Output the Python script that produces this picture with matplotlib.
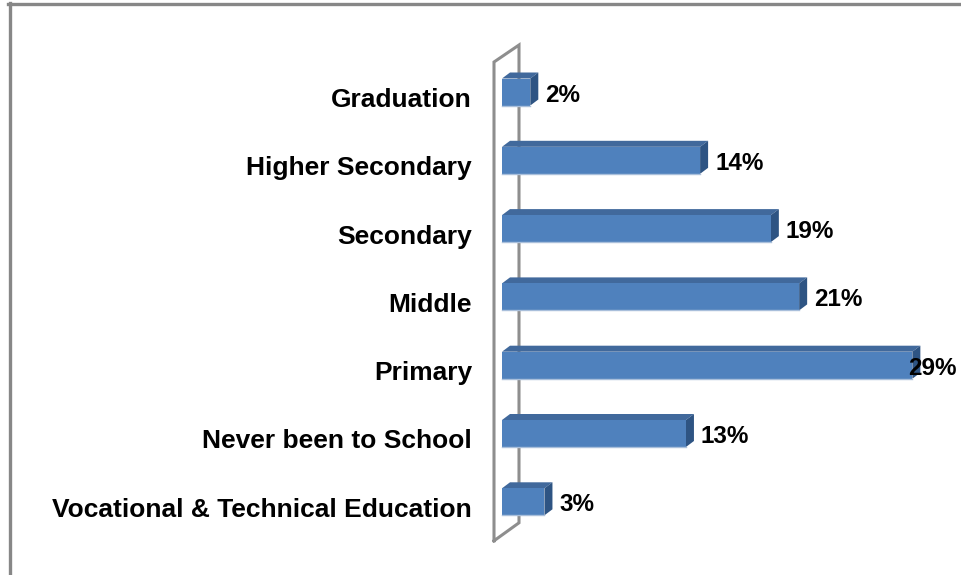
import matplotlib.pyplot as plt
from matplotlib.patches import Polygon
from matplotlib.lines import Line2D

categories = ["Graduation", "Higher Secondary", "Secondary", "Middle",
              "Primary", "Never been to School",
              "Vocational & Technical Education"]
values = [2, 14, 19, 21, 29, 13, 3]
labels = ["2%", "14%", "19%", "21%", "29%", "13%", "3%"]

W, H = 961, 575
fig = plt.figure(figsize=(W / 100, H / 100), dpi=100)

# axes laid out in pixels so the 3D offsets are easy to work out
px_x = 14.15          # pixels per percent
px_y = 68.3           # pixels per category row
ax_left, ax_right = 480, 958
ax_top, ax_bot = 30, 565
zero_px = 502
row0_px = 92

ax = fig.add_axes([ax_left / W, 1 - ax_bot / H,
                   (ax_right - ax_left) / W, (ax_bot - ax_top) / H])
ax.set_xlim((ax_left - zero_px) / px_x, (ax_right - zero_px) / px_x)
ax.set_ylim((ax_bot - row0_px) / px_y, (ax_top - row0_px) / px_y)
ax.axis("off")

dx = 8 / px_x         # depth to the right
dy = 6 / px_y         # depth upwards
bh = 27 / px_y        # front face height

front_c = "#4F81BD"
top_c = "#41699C"
side_c = "#2E5483"
wall_c = "#8E8E8E"

# side wall of the 3D plot
n = len(categories)
wx0, wx1 = -8 / px_x, 17 / px_x
wtop0, wtop1 = -30 / px_y, -47 / px_y
wbot0, wbot1 = n - 1 + 39 / px_y, n - 1 + 21 / px_y
ax.plot([wx0, wx0, wx1, wx1, wx0], [wbot0, wtop0, wtop1, wbot1, wbot0],
        color=wall_c, lw=2.2, solid_joinstyle="miter", zorder=1)

cat_font = dict(family="Liberation Sans", weight="bold", size=19)
val_font = dict(family="Liberation Sans", weight="bold", size=17.5)

for i, (v, lab) in enumerate(zip(values, labels)):
    y_top = i - bh / 2
    y_bot = i + bh / 2
    ax.add_patch(Polygon([(0, y_top), (v, y_top), (v + dx, y_top - dy),
                          (dx, y_top - dy)], closed=True,
                         fc=top_c, ec="none", zorder=2))
    ax.add_patch(Polygon([(v, y_top), (v + dx, y_top - dy),
                          (v + dx, y_bot - dy), (v, y_bot)], closed=True,
                         fc=side_c, ec="none", zorder=2))
    ax.barh(i, v, height=bh, left=0, color=front_c, zorder=3)
    ax.plot([0, v], [y_bot, y_bot], color="#A9BFDB", lw=1, zorder=4)

    # value label, pulled back onto the bar for the longest one
    off = 15 if v < max(values) else -4
    ax.annotate(lab, xy=(v, i), xytext=(off, -3), textcoords="offset pixels",
                ha="left", va="center", zorder=5, **val_font)

    ax.annotate(categories[i], xy=(0, i), xytext=(-30, -15),
                textcoords="offset pixels", ha="right", va="baseline",
                **cat_font)

# outer chart border (left and top)
fig.add_artist(Line2D([9.5 / W, 9.5 / W], [0, 1 - 3 / H],
                      transform=fig.transFigure, color="#878787", lw=2.4))
fig.add_artist(Line2D([8.3 / W, 1], [1 - 4 / H, 1 - 4 / H],
                      transform=fig.transFigure, color="#878787", lw=2.4))

fig.savefig("out.png", dpi=100)
